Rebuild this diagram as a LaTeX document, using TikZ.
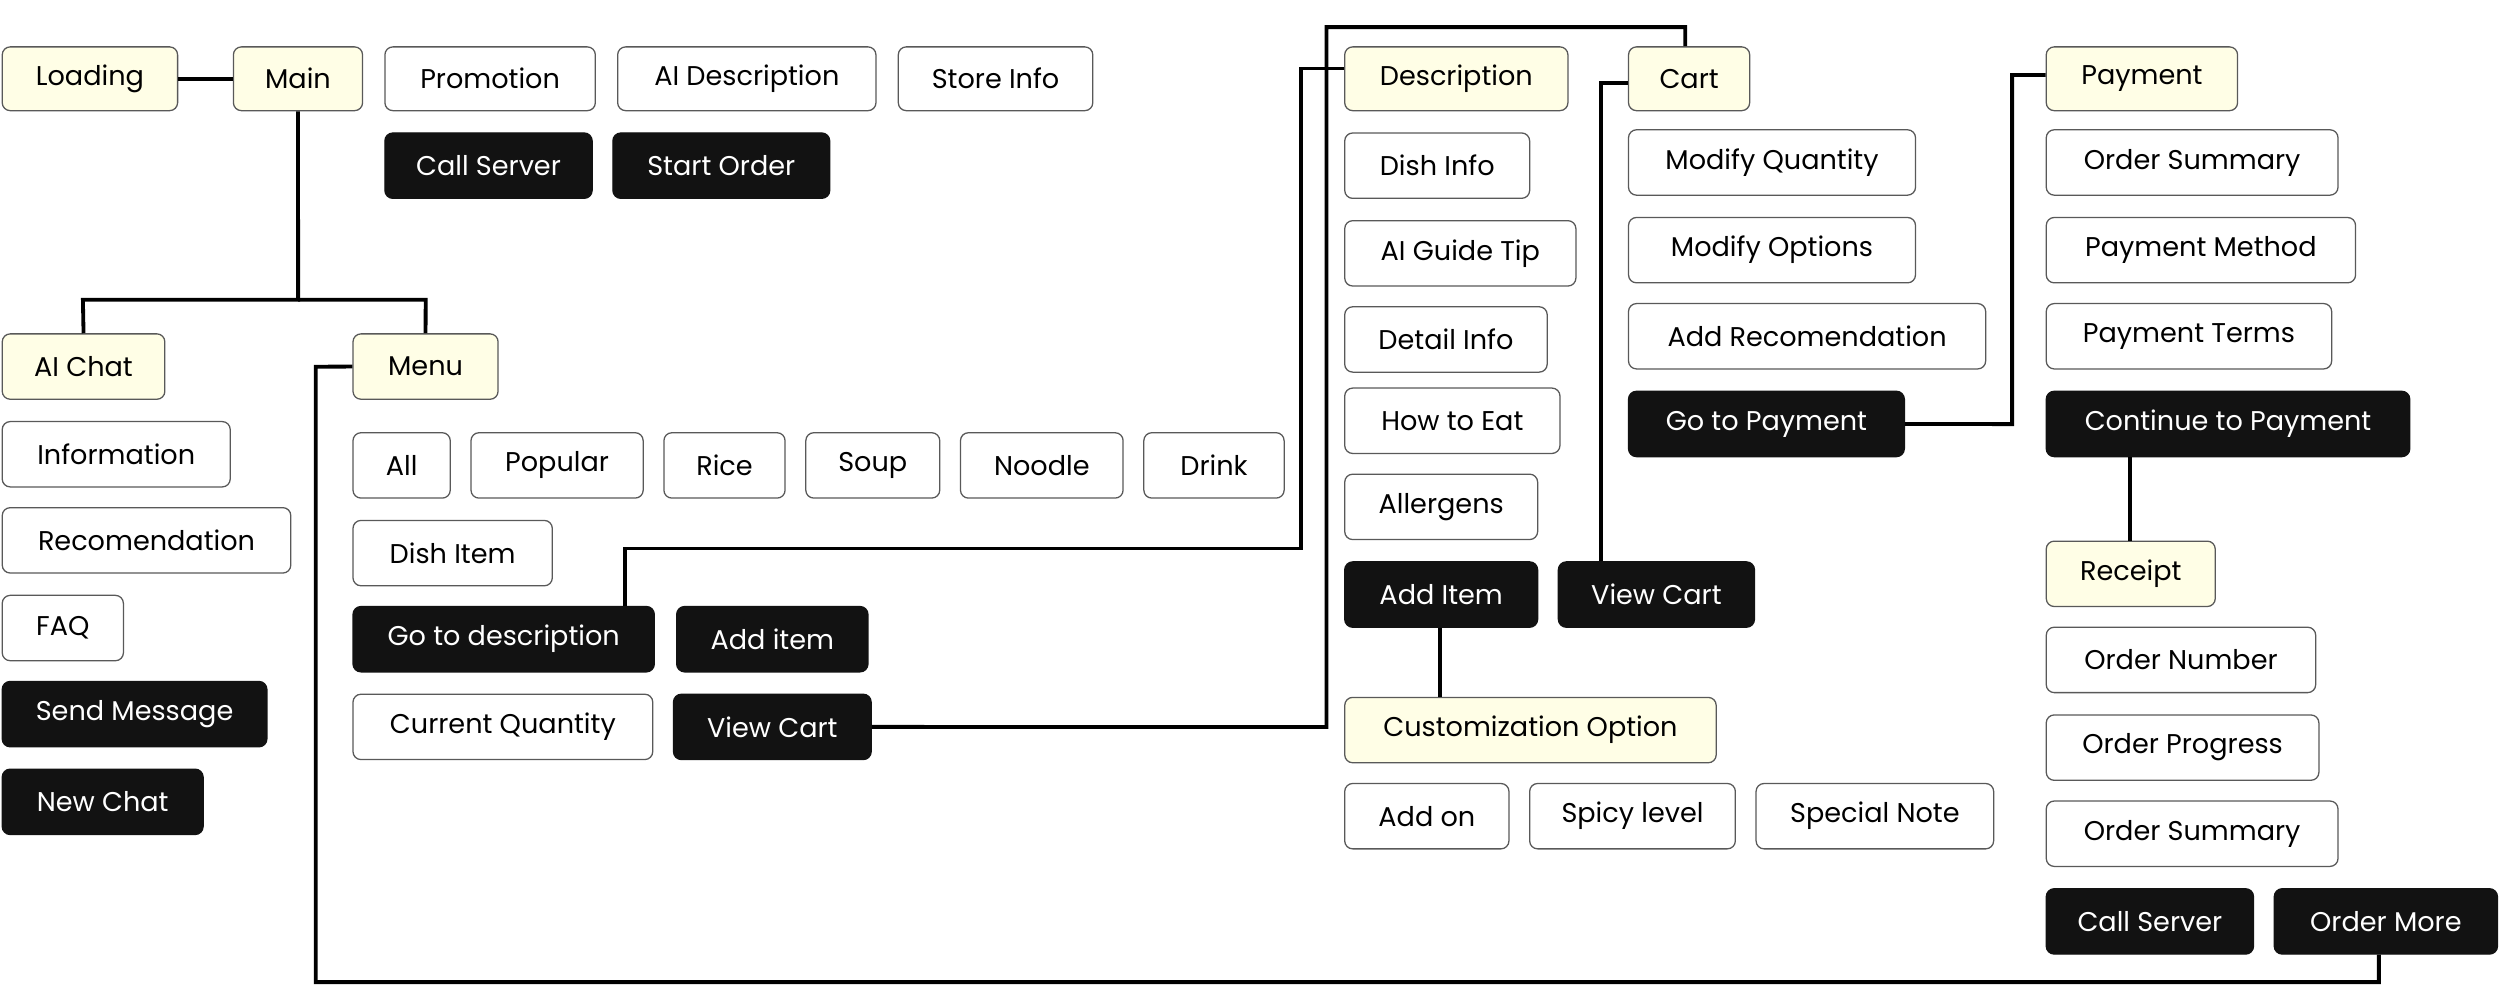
\documentclass[tikz,border=0pt]{standalone}
\usepackage{fontspec}
\setmainfont{Poppins}
\begin{document}
\begin{tikzpicture}[x=1pt,y=-1pt,
 bx/.style={draw=black!65,line width=0.8pt,rounded corners=5pt,inner sep=0pt,anchor=north west,font=\fontsize{17}{20}\selectfont,text=black},
 yl/.style={bx,fill=yellow!10!white},
 wt/.style={bx,fill=white},
 bk/.style={bx,fill=black!93,draw=black!93,text=white},
 ln/.style={line width=2.4pt,black}]
\useasboundingbox (0,0) rectangle (1568,627);
\newcommand\bx[7]{\node[#6,minimum width=#4-#2,minimum height=#5-#3] (#1) at (#2,#3) {#7};}
\bx{loading}{1}{29}{111}{69}{yl}{Loading}
\bx{main}{146}{29}{227}{69}{yl}{Main}
\bx{promo}{241}{29}{373}{69}{wt}{Promotion}
\bx{aidesc}{387}{29}{549}{69}{wt}{AI Description}
\bx{store}{563}{29}{685}{69}{wt}{Store Info}
\bx{callsrv}{241}{83}{371}{124}{bk}{Call Server}
\bx{start}{384}{83}{520}{124}{bk}{Start Order}
\bx{aichat}{1}{209}{103}{250}{yl}{AI Chat}
\bx{menu}{221}{209}{312}{250}{yl}{Menu}
\bx{info}{1}{264}{144}{305}{wt}{Information}
\bx{reco}{1}{318}{182}{359}{wt}{Recomendation}
\bx{faq}{1}{373}{77}{414}{wt}{FAQ}
\bx{send}{1}{427}{167}{468}{bk}{Send Message}
\bx{newchat}{1}{482}{127}{523}{bk}{New Chat}
\bx{all}{221}{271}{282}{312}{wt}{All}
\bx{popular}{295}{271}{403}{312}{wt}{Popular}
\bx{rice}{416}{271}{492}{312}{wt}{Rice}
\bx{soup}{505}{271}{589}{312}{wt}{Soup}
\bx{noodle}{602}{271}{704}{312}{wt}{Noodle}
\bx{drink}{717}{271}{805}{312}{wt}{Drink}
\bx{dish}{221}{326}{346}{367}{wt}{Dish Item}
\bx{godesc}{221}{380}{410}{421}{bk}{Go to description}
\bx{additem}{424}{380}{544}{421}{bk}{Add item}
\bx{curq}{221}{435}{409}{476}{wt}{Current Quantity}
\bx{viewcart}{422}{435}{546}{476}{bk}{View Cart}
\bx{desc}{843}{29}{983}{69}{yl}{Description}
\bx{dinfo}{843}{83}{959}{124}{wt}{Dish Info}
\bx{aiguide}{843}{138}{988}{179}{wt}{AI Guide Tip}
\bx{detail}{843}{192}{970}{233}{wt}{Detail Info}
\bx{howto}{843}{243}{978}{284}{wt}{How to Eat}
\bx{aller}{843}{297}{964}{338}{wt}{Allergens}
\bx{additem2}{843}{352}{964}{393}{bk}{Add Item}
\bx{viewcart2}{977}{352}{1100}{393}{bk}{View Cart}
\bx{custom}{843}{437}{1076}{478}{yl}{Customization Option}
\bx{addon}{843}{491}{946}{532}{wt}{Add on}
\bx{spicy}{959}{491}{1088}{532}{wt}{Spicy level}
\bx{note}{1101}{491}{1250}{532}{wt}{Special Note}
\bx{cart}{1021}{29}{1097}{69}{yl}{Cart}
\bx{modq}{1021}{81}{1201}{122}{wt}{Modify Quantity}
\bx{modo}{1021}{136}{1201}{177}{wt}{Modify Options}
\bx{addrec}{1021}{190}{1245}{231}{wt}{Add Recomendation}
\bx{gopay}{1021}{245}{1194}{286}{bk}{Go to Payment}
\bx{pay}{1283}{29}{1403}{69}{yl}{Payment}
\bx{osum}{1283}{81}{1466}{122}{wt}{Order Summary}
\bx{pmeth}{1283}{136}{1477}{177}{wt}{Payment Method}
\bx{pterm}{1283}{190}{1462}{231}{wt}{Payment Terms}
\bx{cont}{1283}{245}{1511}{286}{bk}{Continue to Payment}
\bx{receipt}{1283}{339}{1389}{380}{yl}{Receipt}
\bx{onum}{1283}{393}{1452}{434}{wt}{Order Number}
\bx{oprog}{1283}{448}{1454}{489}{wt}{Order Progress}
\bx{osum2}{1283}{502}{1466}{543}{wt}{Order Summary}
\bx{callsrv2}{1283}{557}{1413}{598}{bk}{Call Server}
\bx{more}{1426}{557}{1566}{598}{bk}{Order More}
\begin{scope}[ln]
\draw (loading.east) -- (main.west);
\draw (main.south) -- (187,188) -- (52,188) -- (aichat.north);
\draw (187,188) -- (267,188) -- (menu.north);
\draw (menu.west) -- (198,230) -- (198,616) -- (1492,616) -- (more.south -| 1492,598);
\draw (godesc.north -| 392,380) -- (392,344) -- (816,344) -- (816,43) -- (desc.west |- 843,43);
\draw (viewcart.east) -- (832,456) -- (832,17) -- (1057,17) -- (cart.north -| 1057,29);
\draw (additem2.south -| 903,393) -- (custom.north -| 903,437);
\draw (viewcart2.north -| 1004,352) -- (1004,52) -- (cart.west |- 1021,52);
\draw (gopay.east) -- (1262,266) -- (1262,47) -- (pay.west |- 1283,47);
\draw (cont.south -| 1336,286) -- (receipt.north -| 1336,339);
\end{scope}
\end{tikzpicture}
\end{document}
